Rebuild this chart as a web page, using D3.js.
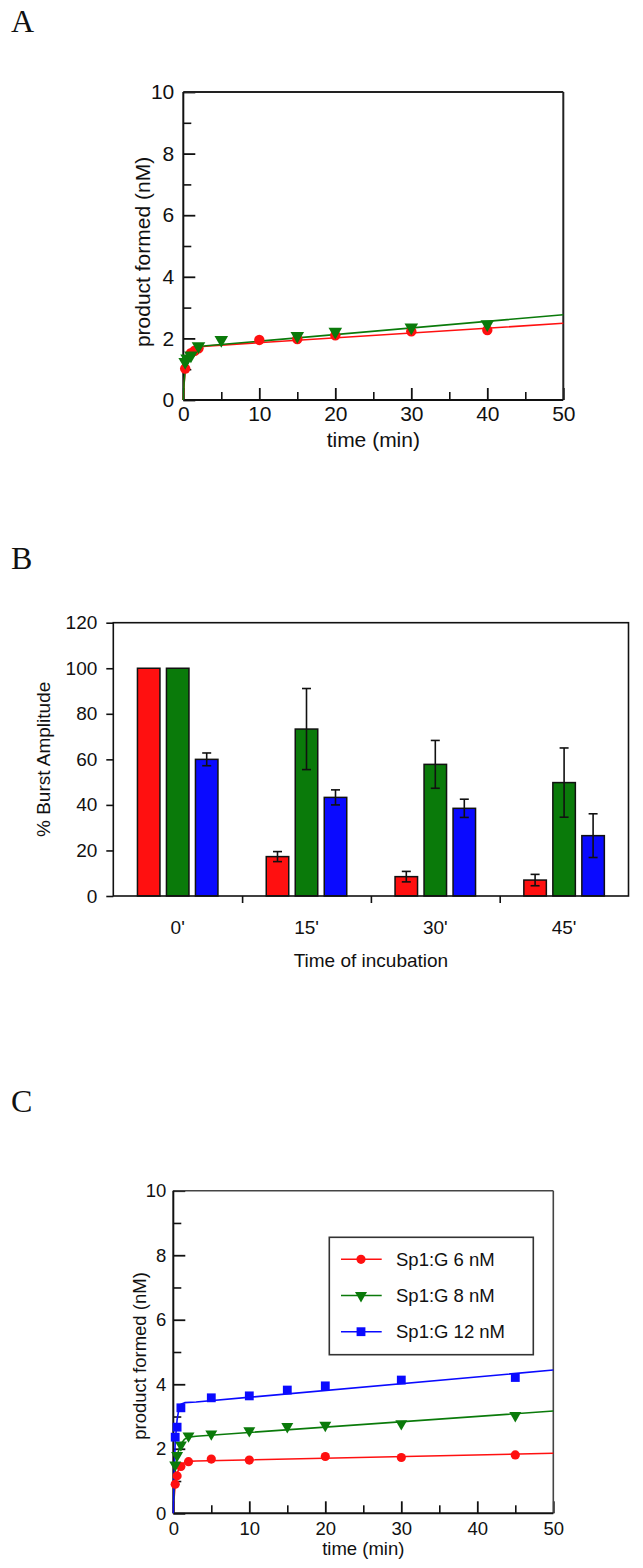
<!DOCTYPE html>
<html><head><meta charset="utf-8">
<script src="https://cdn.jsdelivr.net/npm/d3@7"></script>
<style>
body{margin:0;background:#fff}
svg{display:block}
text{font-family:"Liberation Sans",Arial,sans-serif;fill:#111}
</style>
</head><body>
<svg id="c" width="643" height="1568"></svg>
<script>
// ---------- Panel A data ----------
const aRedT   = [0.25, 1, 1.5, 2, 10, 15, 20, 30, 40];
const aRedY   = [1.02, 1.52, 1.6, 1.68, 1.95, 1.98, 2.1, 2.23, 2.27];
const aGreenT = [0.25, 0.5, 1, 2, 5, 15, 20, 30, 40];
const aGreenY = [1.24, 1.35, 1.45, 1.75, 1.95, 2.08, 2.22, 2.36, 2.46];
const aRedFitT   = [0, 0.1, 0.25, 0.5, 1, 1.5, 2, 3, 50];
const aRedFitY   = [0, 0.5, 0.95, 1.3, 1.56, 1.67, 1.72, 1.75, 2.49];
const aGreenFitT = [0, 0.1, 0.25, 0.5, 1, 1.5, 2, 3, 50];
const aGreenFitY = [0, 0.55, 1.0, 1.32, 1.56, 1.67, 1.72, 1.76, 2.77];

// ---------- Panel B data ----------
const bCategories = ["0'", "15'", "30'", "45'"];
const bRed      = [100, 17.3, 8.5, 7.0];
const bRedErr   = [0, 2.2, 2.3, 2.5];
const bGreen    = [100, 73.3, 57.8, 49.8];
const bGreenErr = [0, 17.8, 10.5, 15.2];
const bBlue     = [60, 43.3, 38.5, 26.5];
const bBlueErr  = [2.8, 3.3, 4.0, 9.6];
const bYTicks   = [0, 20, 40, 60, 80, 100, 120];

// ---------- Panel C data ----------
const cRedT   = [0.25, 0.5, 1, 2, 5, 10, 20, 30, 45];
const cRedY   = [0.9, 1.16, 1.45, 1.6, 1.68, 1.65, 1.76, 1.73, 1.81];
const cGreenT = [0.25, 0.5, 1, 2, 5, 10, 15, 20, 30, 45];
const cGreenY = [1.5, 1.79, 2.12, 2.4, 2.46, 2.56, 2.69, 2.73, 2.78, 3.03];
const cBlueT  = [0.25, 0.5, 1, 5, 10, 15, 20, 30, 45];
const cBlueY  = [2.36, 2.67, 3.27, 3.58, 3.64, 3.82, 3.95, 4.13, 4.21];
const cRedFitT   = [0, 0.1, 0.25, 0.5, 1, 1.5, 2, 3, 50];
const cRedFitY   = [0, 0.45, 0.9, 1.25, 1.5, 1.58, 1.61, 1.62, 1.86];
const cGreenFitT = [0, 0.1, 0.25, 0.5, 1, 1.5, 2, 3, 50];
const cGreenFitY = [0, 0.6, 1.3, 1.8, 2.15, 2.3, 2.36, 2.39, 3.17];
const cBlueFitT  = [0, 0.1, 0.25, 0.5, 0.75, 1, 1.5, 3, 50];
const cBlueFitY  = [0, 1.1, 2.2, 2.9, 3.25, 3.38, 3.43, 3.45, 4.44];
const legendLabels = ["Sp1:G 6 nM", "Sp1:G 8 nM", "Sp1:G 12 nM"];

const RED = "#ff1010", GREEN = "#0a7a0a", BLUE = "#0a0aff";
const svg = d3.select("#c");

function zip(t, y){ return t.map((v,i)=>[v, y[i]]); }

// panel letters
[["A",32],["B",569],["C",1112]].forEach(([l,y])=>{
  svg.append("text").attr("x",11).attr("y",y)
    .style("font-family",'"Liberation Serif","Times New Roman",serif')
    .style("font-size","32px").text(l);
});

// ---------- generic kinetic panel ----------
function kineticPanel(opt){
  const g = svg.append("g");
  const x = d3.scaleLinear().domain([0,50]).range([opt.x0, opt.x1]);
  const y = d3.scaleLinear().domain([0,10]).range([opt.y0, opt.y1]);
  // minor ticks
  g.append("g").attr("transform",`translate(0,${opt.y0})`)
    .call(d3.axisBottom(x).tickValues([5,15,25,35,45]).tickSize(-opt.minor).tickFormat(""))
    .call(a=>{a.select(".domain").remove(); a.selectAll("line").attr("stroke","#111").attr("stroke-width",1.6);});
  g.append("g").attr("transform",`translate(${opt.x0},0)`)
    .call(d3.axisLeft(y).tickValues([1,3,5,7,9]).tickSize(-opt.minor).tickFormat(""))
    .call(a=>{a.select(".domain").remove(); a.selectAll("line").attr("stroke","#111").attr("stroke-width",1.6);});
  // major ticks
  g.append("g").attr("transform",`translate(0,${opt.y0})`)
    .call(d3.axisBottom(x).tickValues([0,10,20,30,40,50]).tickSize(-opt.major).tickPadding(opt.xpad))
    .call(a=>{a.select(".domain").remove(); a.selectAll("line").attr("stroke","#111").attr("stroke-width",1.8);
      a.selectAll("text").style("font-size",opt.fs+"px").attr("fill","#111");});
  g.append("g").attr("transform",`translate(${opt.x0},0)`)
    .call(d3.axisLeft(y).tickValues([0,2,4,6,8,10]).tickSize(-opt.major).tickPadding(opt.ypad))
    .call(a=>{a.select(".domain").remove(); a.selectAll("line").attr("stroke","#111").attr("stroke-width",1.8);
      a.selectAll("text").style("font-size",opt.fs+"px").attr("fill","#111");});
  // frame
  g.append("line").attr("x1",opt.x0).attr("x2",opt.x1).attr("y1",opt.y1).attr("y2",opt.y1).attr("stroke",opt.frame).attr("stroke-width",opt.fw);
  g.append("line").attr("x1",opt.x1).attr("x2",opt.x1).attr("y1",opt.y1).attr("y2",opt.y0).attr("stroke",opt.frame).attr("stroke-width",opt.fw);
  g.append("line").attr("x1",opt.x0).attr("x2",opt.x1).attr("y1",opt.y0).attr("y2",opt.y0).attr("stroke","#111").attr("stroke-width",2);
  g.append("line").attr("x1",opt.x0).attr("x2",opt.x0).attr("y1",opt.y1).attr("y2",opt.y0).attr("stroke","#111").attr("stroke-width",2);
  // titles
  g.append("text").attr("x",(opt.x0+opt.x1)/2).attr("y",opt.xtY).attr("text-anchor","middle")
    .style("font-size",opt.fs+"px").text("time (min)");
  g.append("text").attr("transform",`translate(${opt.ytX},${opt.ytY}) rotate(-90)`).attr("text-anchor","middle")
    .style("font-size",opt.fs+"px").text("product formed (nM)");
  const line = d3.line().x(d=>x(d[0])).y(d=>y(d[1])).curve(d3.curveLinear);
  opt.series.forEach(s=>{
    g.append("path").datum(zip(s.fitT,s.fitY)).attr("d",line).attr("fill","none")
      .attr("stroke",s.color).attr("stroke-width",1.6).attr("stroke-linejoin","round");
  });
  opt.series.forEach(s=>{
    g.selectAll(null).data(zip(s.t,s.y)).join("path")
      .attr("transform",d=>`translate(${x(d[0])},${y(d[1])})${s.shape==="tri"?" rotate(180)":""}`)
      .attr("d",d3.symbol(s.shape==="tri"?d3.symbolTriangle:(s.shape==="sq"?d3.symbolSquare:d3.symbolCircle), s.size)())
      .attr("fill",s.color);
  });
  return {g,x,y};
}

// ---------- Panel A ----------
kineticPanel({x0:183.3,x1:563.3,y0:400,y1:92,major:12,minor:8,xpad:6,ypad:9,fs:21,
  frame:"#222",fw:2,xtY:447,ytX:150,ytY:252,
  series:[
    {t:aRedT,y:aRedY,fitT:aRedFitT,fitY:aRedFitY,color:RED,shape:"circ",size:85},
    {t:aGreenT,y:aGreenY,fitT:aGreenFitT,fitY:aGreenFitY,color:GREEN,shape:"tri",size:80}
  ]});

// ---------- Panel B ----------
(function(){
  const x0=113.3, x1=628.5, y0=896, y1=622.7;
  const g = svg.append("g");
  const xb = d3.scaleBand().domain(bCategories).range([x0,x1]);
  const xl = d3.scaleLinear().domain([0,4]).range([x0,x1]);
  const y = d3.scaleLinear().domain([0,120]).range([y0,y1]);
  const series = [
    {v:bRed,e:bRedErr,c:RED,off:-29},
    {v:bGreen,e:bGreenErr,c:GREEN,off:0},
    {v:bBlue,e:bBlueErr,c:BLUE,off:29}
  ];
  const bw = 22.5;
  series.forEach(s=>{
    bCategories.forEach((cat,i)=>{
      const cx = xb(cat)+xb.bandwidth()/2+s.off;
      g.append("rect").attr("x",cx-bw/2).attr("y",y(s.v[i])).attr("width",bw).attr("height",y(0)-y(s.v[i]))
        .attr("fill",s.c).attr("stroke","#111").attr("stroke-width",1.5);
      if(s.e[i]>0){
        const eg = g.append("g").attr("stroke","#111").attr("stroke-width",1.6);
        eg.append("line").attr("x1",cx).attr("x2",cx).attr("y1",y(s.v[i]-s.e[i])).attr("y2",y(s.v[i]+s.e[i]));
        eg.append("line").attr("x1",cx-4.5).attr("x2",cx+4.5).attr("y1",y(s.v[i]+s.e[i])).attr("y2",y(s.v[i]+s.e[i]));
        eg.append("line").attr("x1",cx-4.5).attr("x2",cx+4.5).attr("y1",y(s.v[i]-s.e[i])).attr("y2",y(s.v[i]-s.e[i]));
      }
    });
  });
  g.append("rect").attr("x",x0).attr("y",y1).attr("width",x1-x0).attr("height",y0-y1)
    .attr("fill","none").attr("stroke","#111").attr("stroke-width",1.6);
  g.append("g").attr("transform",`translate(${x0},0)`)
    .call(d3.axisLeft(y).tickValues(bYTicks).tickSize(7).tickPadding(9))
    .call(a=>{a.select(".domain").remove(); a.selectAll("line").attr("stroke","#111").attr("stroke-width",1.6);
      a.selectAll("text").style("font-size","19px").attr("fill","#222");});
  g.append("g").attr("transform",`translate(0,${y0})`)
    .call(d3.axisBottom(xl).tickValues([1,2,3]).tickSize(7).tickFormat(""))
    .call(a=>{a.select(".domain").remove(); a.selectAll("line").attr("stroke","#111").attr("stroke-width",1.6);});
  g.append("g").attr("transform",`translate(0,${y0})`)
    .call(d3.axisBottom(xb).tickSize(0).tickPadding(25))
    .call(a=>{a.select(".domain").remove();
      a.selectAll("text").style("font-size","19px").attr("fill","#222");});
  g.append("text").attr("x",(x0+x1)/2).attr("y",967).attr("text-anchor","middle")
    .style("font-size","19px").attr("fill","#222").text("Time of incubation");
  g.append("text").attr("transform",`translate(50,${(y0+y1)/2}) rotate(-90)`).attr("text-anchor","middle")
    .style("font-size","19px").attr("fill","#222").text("% Burst Amplitude");
})();

// ---------- Panel C ----------
(function(){
  const p = kineticPanel({x0:173.3,x1:553.3,y0:1513.3,y1:1190.7,major:12,minor:8,xpad:8.5,ypad:7,fs:18.5,
    frame:"#444",fw:1.6,xtY:1555,ytX:146,ytY:1356,
    series:[
      {t:cRedT,y:cRedY,fitT:cRedFitT,fitY:cRedFitY,color:RED,shape:"circ",size:66},
      {t:cGreenT,y:cGreenY,fitT:cGreenFitT,fitY:cGreenFitY,color:GREEN,shape:"tri",size:62},
      {t:cBlueT,y:cBlueY,fitT:cBlueFitT,fitY:cBlueFitY,color:BLUE,shape:"sq",size:78}
    ]});
  const g = p.g;
  g.append("rect").attr("x",329.3).attr("y",1237.3).attr("width",204).attr("height",117.4)
    .attr("fill","#fff").attr("stroke","#333").attr("stroke-width",1.6);
  const cols=[RED,GREEN,BLUE], shapes=[d3.symbolCircle,d3.symbolTriangle,d3.symbolSquare], sizes=[66,62,78];
  legendLabels.forEach((lab,i)=>{
    const yy = 1259.3 + i*36.2;
    g.append("line").attr("x1",341).attr("x2",381.7).attr("y1",yy).attr("y2",yy).attr("stroke",cols[i]).attr("stroke-width",1.6);
    g.append("path").attr("transform",`translate(361,${yy})${i===1?" rotate(180)":""}`)
      .attr("d",d3.symbol(shapes[i],sizes[i])()).attr("fill",cols[i]);
    g.append("text").attr("x",396).attr("y",yy+6.6).style("font-size","18.5px").text(lab);
  });
})();
</script>
</body></html>
